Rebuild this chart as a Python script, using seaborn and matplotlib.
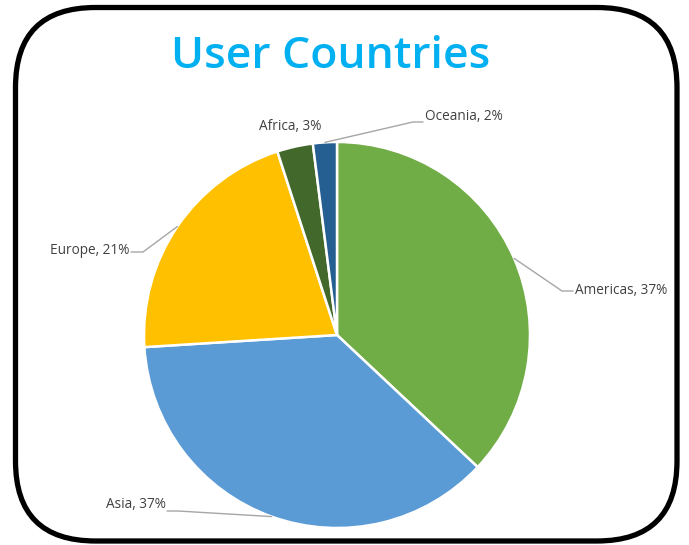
import matplotlib
matplotlib.use("Agg")
import matplotlib.pyplot as plt
import seaborn as sns
import numpy as np
from matplotlib.patches import FancyBboxPatch

sns.set_theme(style="white")
plt.rcParams['font.family'] = ['Open Sans', 'DejaVu Sans']

# data
regions = ["Americas", "Asia", "Europe", "Africa", "Oceania"]
shares = [37, 37, 21, 3, 2]
colors = ["#70AD47", "#5B9BD5", "#FFC000", "#43682B", "#255E91"]

W, H = 689, 545
fig = plt.figure(figsize=(W / 100, H / 100), dpi=100)
ax = fig.add_axes([0, 0, 1, 1])

def py(y):
    # pixel y (from top) -> data y
    return H - y

# rounded frame
frame = FancyBboxPatch((15.5, py(541)), 677 - 15.5, 541 - 7.5,
                       boxstyle="round,pad=0,rounding_size=80",
                       fc="white", ec="black", lw=3.8, zorder=0)
ax.add_patch(frame)

ax.text(331, py(57), "User Countries", ha="center", va="center",
        fontsize=32, fontweight="semibold", color="#00B0F0")

cx, cy, r = 337, py(335), 193
wedges, _ = ax.pie(shares, colors=colors, startangle=90, counterclock=False,
                   center=(cx, cy), radius=r, frame=True,
                   wedgeprops=dict(edgecolor="white", linewidth=1.8))
ax.set_xlim(0, W)
ax.set_ylim(0, H)
ax.axis('off')

# label layout (pixel coords): text anchor, elbow, end of line, alignment
labels_layout = {
    "Americas": dict(txt=(575, 290), ha="left", line=[(562, 291), (573, 291)]),
    "Asia": dict(txt=(166, 505), ha="right", line=[(178, 511), (167, 511)]),
    "Europe": dict(txt=(129, 251), ha="right", line=[(143, 252), (131, 252)]),
    "Africa": dict(txt=(290, 127), ha="center", line=None),
    "Oceania": dict(txt=(425, 117), ha="left", line=[(413, 122), (423, 122)]),
}

for w, name, val in zip(wedges, regions, shares):
    lay = labels_layout[name]
    mid = np.deg2rad((w.theta1 + w.theta2) / 2)
    sx, sy = cx + r * np.cos(mid), cy + r * np.sin(mid)
    if lay["line"] is not None:
        xs = [sx] + [p[0] for p in lay["line"]]
        ys = [sy] + [py(p[1]) for p in lay["line"]]
        ax.plot(xs, ys, color="#A6A6A6", lw=1.0, zorder=1)
    ax.text(lay["txt"][0], py(lay["txt"][1]), f"{name}, {val}%",
            ha=lay["ha"], va="center", fontsize=9.8, color="#404040")

fig.savefig("out.png", dpi=100)
